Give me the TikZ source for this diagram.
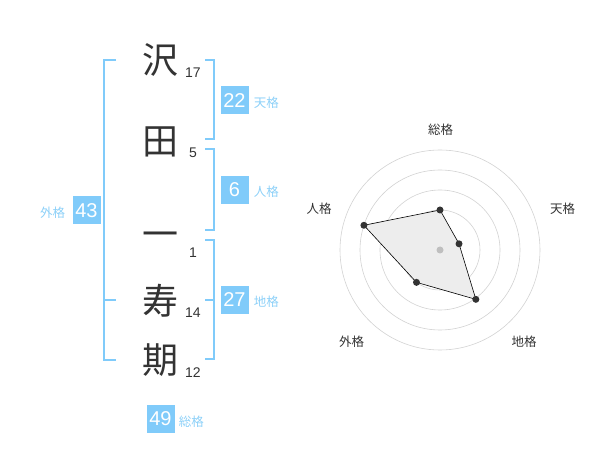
\documentclass[tikz,border=0pt]{standalone}
\usepackage{fontspec}
\usetikzlibrary{calc}
\setmainfont{Noto Sans CJK JP}
\newfontfamily\numfont{Liberation Sans}
\definecolor{bblue}{HTML}{80CBFA}
\definecolor{lblue}{HTML}{8CD0F8}
\definecolor{dark}{HTML}{333333}
\definecolor{ringc}{HTML}{D2D2D2}
\tikzset{
  kanji/.style={font=\fontsize{36}{36}\selectfont, text=dark, inner sep=0pt},
  strokes/.style={font=\numfont\fontsize{14}{14}\selectfont, text=dark, inner sep=0pt},
  score/.style={fill=bblue, text=white, font=\numfont\fontsize{20}{20}\selectfont, minimum width=28pt, minimum height=28pt, inner sep=0pt},
  kaku/.style={text=lblue, font=\fontsize{12.5}{12.5}\selectfont, inner sep=0pt},
  bracket/.style={draw=bblue, line width=2pt},
  ring/.style={draw=ringc, line width=0.6pt},
  axlabel/.style={text=dark, font=\fontsize{12.5}{12.5}\selectfont, inner sep=0pt},
  dot/.style={circle, fill=dark, inner sep=0pt, minimum size=7pt},
  polyline/.style={draw=black, line width=0.6pt, fill=black!7}
}
\begin{document}
\begin{tikzpicture}[x=1pt,y=-1pt]
\useasboundingbox (0,0) rectangle (600,470);
% kanji
\node[kanji] (k1) at (160,60) {沢};
\node[kanji] (k2) at (160,142) {田};
\node[kanji] (k3) at (160,240) {一};
\node[kanji] (k4) at (160,301) {寿};
\node[kanji] (k5) at (160,360) {期};
% stroke counts
\node[strokes] (s1) at (193,73) {17};
\node[strokes] (s2) at (193,153) {5};
\node[strokes] (s3) at (193,253) {1};
\node[strokes] (s4) at (193,313) {14};
\node[strokes] (s5) at (193,373) {12};
% brackets
\draw[bracket] (116,60) -- (104,60) -- (104,360) -- (116,360);
\draw[bracket] (104,300) -- (116,300);
\draw[bracket] (205,60) -- (214,60) -- (214,139) -- (205,139);
\draw[bracket] (205,149) -- (214,149) -- (214,230) -- (205,230);
\draw[bracket] (205,240) -- (214,240) -- (214,359) -- (205,359);
\draw[bracket] (205,300) -- (214,300);
% scores
\node[score] (ten) at (234.5,100.5) {22};
\node[kaku, anchor=west] (tenl) at ([xshift=5pt,yshift=-2pt]ten.east) {天格};
\node[score] (jin) at (234.5,190) {6};
\node[kaku, anchor=west] (jinl) at ([xshift=5pt,yshift=-2pt]jin.east) {人格};
\node[score] (chi) at (234.5,300) {27};
\node[kaku, anchor=west] (chil) at ([xshift=5pt,yshift=-2pt]chi.east) {地格};
\node[score] (gai) at (86.5,210.5) {43};
\node[kaku, anchor=east] (gail) at ([xshift=-7pt,yshift=-2pt]gai.west) {外格};
\node[score] (sou) at (160.5,418.5) {49};
\node[kaku, anchor=west] (soul) at ([xshift=4pt,yshift=-3pt]sou.east) {総格};
% radar
\coordinate (c) at (440,250);
\foreach \r in {20,40,60,80,100} \draw[ring] (c) circle[radius=\r];
\coordinate (p1) at ($(c)+(-90:40)$);
\coordinate (p2) at ($(c)+(-18:20)$);
\coordinate (p3) at ($(c)+(54:61)$);
\coordinate (p4) at ($(c)+(126:40)$);
\coordinate (p5) at ($(c)+(198:80)$);
\draw[polyline] (p1) -- (p2) -- (p3) -- (p4) -- (p5) -- cycle;
\node[circle, fill=black!25, inner sep=0pt, minimum size=7pt] (cd) at (c) {};
\foreach \i in {1,...,5} \node[dot] (d\i) at (p\i) {};
\node[axlabel] (a1) at (440.7,130) {総格};
\node[axlabel] (a2) at (562.7,208.3) {天格};
\node[axlabel] (a3) at (524,341.7) {地格};
\node[axlabel] (a4) at (351.7,341.7) {外格};
\node[axlabel] (a5) at (319,208.3) {人格};
\end{tikzpicture}
\end{document}
